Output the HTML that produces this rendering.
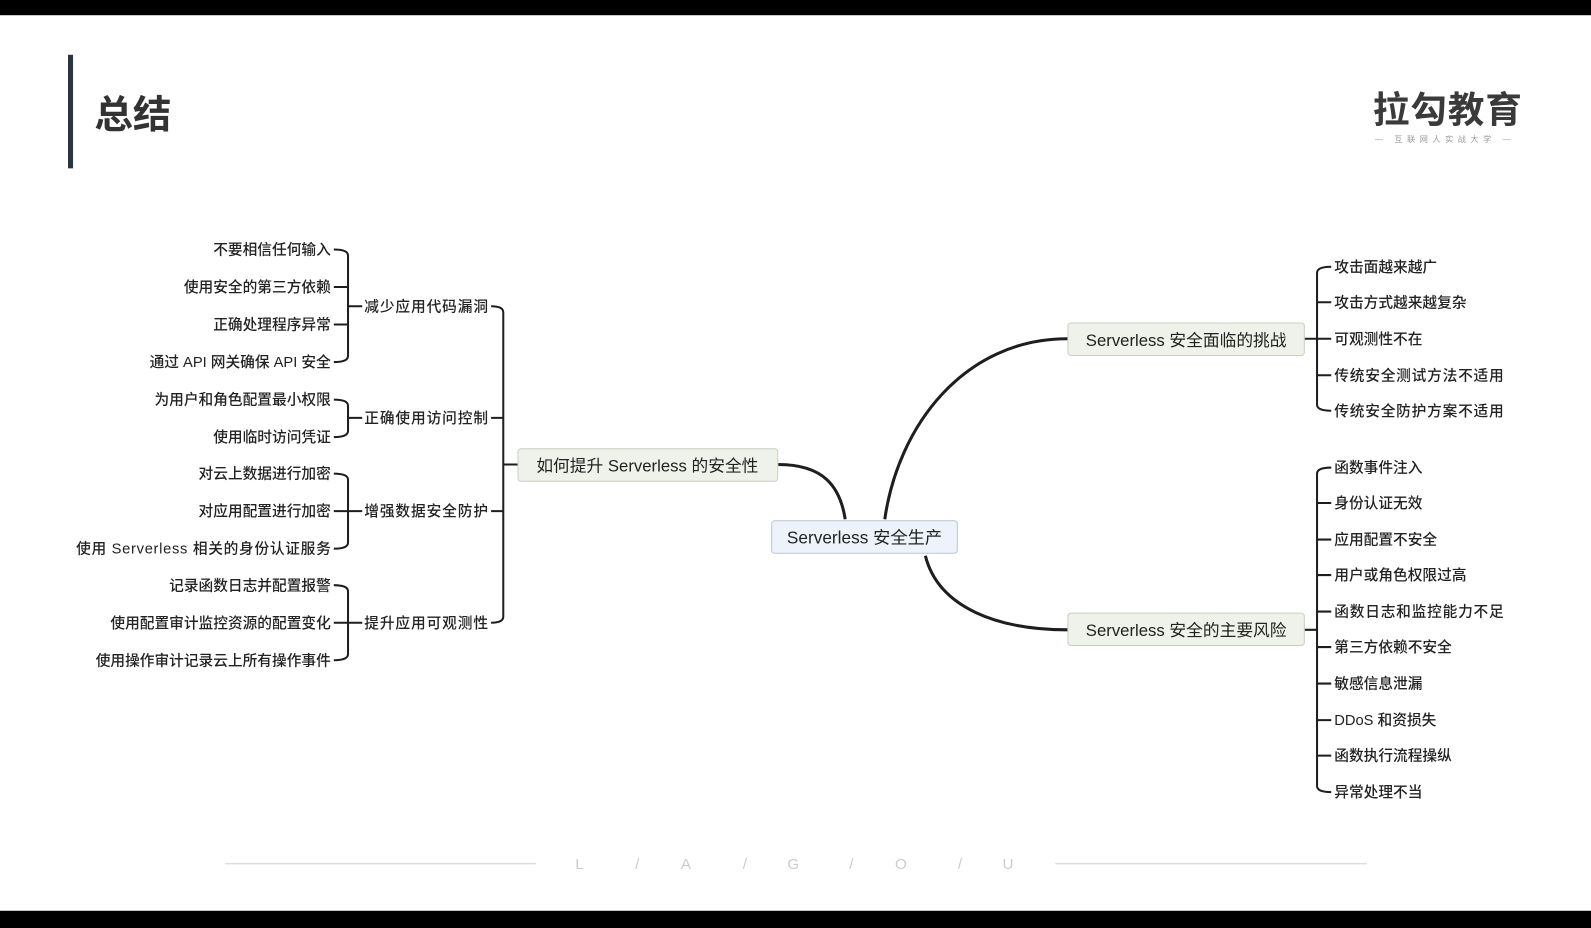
<!DOCTYPE html>
<html><head><meta charset="utf-8"><style>
html,body{margin:0;padding:0;background:#fff;width:1591px;height:928px;overflow:hidden}
svg{display:block}
text{font-family:"Liberation Sans","Noto Sans CJK SC",sans-serif;fill:#222}
.l{font-size:14.5px;font-weight:500}
.g{font-size:14.5px;font-weight:500}
.n{font-size:16.5px}
.c{stroke:#1e1e1e;stroke-width:2;fill:none}
.t{stroke:#1e1e1e;stroke-width:3;fill:none}
</style></head><body>
<svg width="1591" height="928" viewBox="0 0 1568 915" preserveAspectRatio="none">
<rect x="0" y="0" width="1568" height="15" fill="#000"/>
<rect x="0" y="898" width="1568" height="17" fill="#000"/>
<rect x="67" y="54" width="5" height="112" fill="#2c3444"/>
<text x="93" y="126" style="font-size:38px;font-weight:bold;fill:#333">总结</text>
<text x="1353" y="121" style="font-size:36px;font-weight:bold;fill:#3a3a3a;letter-spacing:1px">拉勾教育</text>
<text x="1355" y="140" style="font-size:8px;fill:#999;letter-spacing:4.5px">— 互联网人实战大学 —</text>

<path class="t" d="M833,512 C828,480 812,458 767,458"/>
<path class="t" d="M872,512 C885,420 950,334 1052,334"/>
<path class="t" d="M912,548 C925,600 985,621 1052,621"/>

<rect x="760.5" y="513.5" width="183" height="32" rx="3" fill="#eef3fb" stroke="#b9c5d8"/>
<text class="n" x="852" y="536" text-anchor="middle" style="font-size:17px">Serverless 安全生产</text>
<rect x="510.5" y="442.5" width="256" height="32" rx="3" fill="#eef2ea" stroke="#c8d0c2"/>
<text class="n" x="638" y="465" text-anchor="middle">如何提升 Serverless 的安全性</text>
<rect x="1052.5" y="318.5" width="233" height="32" rx="3" fill="#eef2ea" stroke="#c8d0c2"/>
<text class="n" x="1169" y="341" text-anchor="middle">Serverless 安全面临的挑战</text>
<rect x="1052.5" y="604.5" width="233" height="32" rx="3" fill="#eef2ea" stroke="#c8d0c2"/>
<text class="n" x="1169" y="627" text-anchor="middle">Serverless 安全的主要风险</text>

<path class="c" d="M484,302 Q496,302 496,308 L496,608 Q496,614 484,614"/>
<path class="c" d="M484,412 H496 M484,504 H496 M496,458 H510"/>
<text class="g" x="481" y="307" text-anchor="end" textLength="122">减少应用代码漏洞</text>
<text class="g" x="481" y="417" text-anchor="end" textLength="122">正确使用访问控制</text>
<text class="g" x="481" y="509" text-anchor="end" textLength="122">增强数据安全防护</text>
<text class="g" x="481" y="619" text-anchor="end" textLength="122">提升应用可观测性</text>

<path class="c" d="M329,246 Q343,246 343,252 L343,351 Q343,357 329,357 M329,283 H343 M329,320 H343 M343,302 H357"/>
<path class="c" d="M329,394 Q343,394 343,400 L343,425 Q343,431 329,431 M343,412 H357"/>
<path class="c" d="M329,467 Q343,467 343,473 L343,535 Q343,541 329,541 M329,504 H357"/>
<path class="c" d="M329,577 Q343,577 343,583 L343,645 Q343,651 329,651 M329,614 H357"/>
<g text-anchor="end">
<text class="l" x="326" y="251">不要相信任何输入</text>
<text class="l" x="326" y="288">使用安全的第三方依赖</text>
<text class="l" x="326" y="325">正确处理程序异常</text>
<text class="l" x="326" y="362">通过 API 网关确保 API 安全</text>
<text class="l" x="326" y="399">为用户和角色配置最小权限</text>
<text class="l" x="326" y="436">使用临时访问凭证</text>
<text class="l" x="326" y="472">对云上数据进行加密</text>
<text class="l" x="326" y="509">对应用配置进行加密</text>
<text class="l" x="326" y="546" textLength="251">使用 Serverless 相关的身份认证服务</text>
<text class="l" x="326" y="582">记录函数日志并配置报警</text>
<text class="l" x="326" y="619">使用配置审计监控资源的配置变化</text>
<text class="l" x="326" y="656">使用操作审计记录云上所有操作事件</text>
</g>

<path class="c" d="M1312,263 Q1298,263 1298,269 L1298,399 Q1298,405 1312,405 M1298,298 H1312 M1286,334 H1312 M1298,370 H1312"/>
<path class="c" d="M1312,461 Q1298,461 1298,467 L1298,775 Q1298,781 1312,781 M1298,496 H1312 M1298,532 H1312 M1298,567 H1312 M1298,603 H1312 M1286,621 H1298 M1298,638 H1312 M1298,674 H1312 M1298,710 H1312 M1298,745 H1312"/>
<text class="l" x="1315" y="268">攻击面越来越广</text>
<text class="l" x="1315" y="303">攻击方式越来越复杂</text>
<text class="l" x="1315" y="339">可观测性不在</text>
<text class="l" x="1315" y="375" textLength="167">传统安全测试方法不适用</text>
<text class="l" x="1315" y="410" textLength="167">传统安全防护方案不适用</text>
<text class="l" x="1315" y="466">函数事件注入</text>
<text class="l" x="1315" y="501">身份认证无效</text>
<text class="l" x="1315" y="537">应用配置不安全</text>
<text class="l" x="1315" y="572">用户或角色权限过高</text>
<text class="l" x="1315" y="608" textLength="167">函数日志和监控能力不足</text>
<text class="l" x="1315" y="643">第三方依赖不安全</text>
<text class="l" x="1315" y="679">敏感信息泄漏</text>
<text class="l" x="1315" y="715">DDoS 和资损失</text>
<text class="l" x="1315" y="750">函数执行流程操纵</text>
<text class="l" x="1315" y="786">异常处理不当</text>

<line x1="222" y1="851.5" x2="528" y2="851.5" stroke="#ddd" stroke-width="1.5"/>
<line x1="1040" y1="851.5" x2="1347" y2="851.5" stroke="#ddd" stroke-width="1.5"/>
<g style="font-size:15px">
<text x="567" y="857" style="fill:#ccc">L</text>
<text x="626" y="857" style="fill:#ccc">/</text>
<text x="671" y="857" style="fill:#ccc">A</text>
<text x="732" y="857" style="fill:#ccc">/</text>
<text x="776" y="857" style="fill:#ccc">G</text>
<text x="837" y="857" style="fill:#ccc">/</text>
<text x="882" y="857" style="fill:#ccc">O</text>
<text x="944" y="857" style="fill:#ccc">/</text>
<text x="988" y="857" style="fill:#ccc">U</text>
</g>
</svg>
</body></html>
